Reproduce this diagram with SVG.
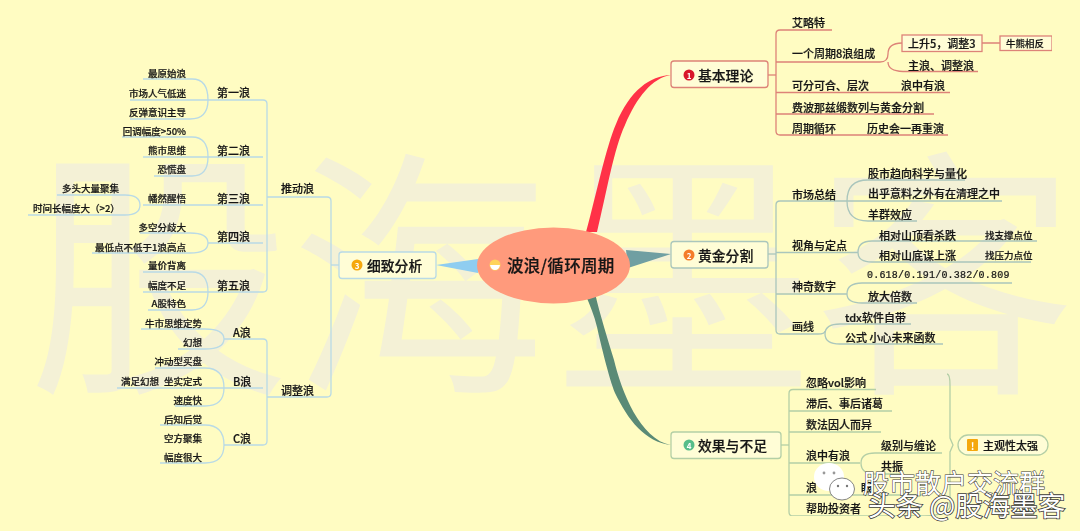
<svg xmlns="http://www.w3.org/2000/svg" width="1080" height="531" viewBox="0 0 1080 531">
<style>
text{font-family:"Noto Sans CJK SC","Noto Sans",sans-serif;fill:#161616;dominant-baseline:central;font-weight:500;stroke:#161616;stroke-width:.22}
.s{font-size:11px}.x{font-size:9.500px}.m{font-size:11px}
.r{text-anchor:end}
.big{font-size:13.800px}
.wm{font-size:262px;fill:#f4f1d6;stroke:none;font-weight:400;dominant-baseline:auto}
.c{fill:none;stroke-width:1.300}
.c1{stroke:#dd8378}.c2{stroke:#aac6bc}.c3{stroke:#b9dae6}.c4{stroke:#b4cfa6}
.nb{fill:#fffdd6;stroke-width:1.300}
.n{font-size:8px;fill:#fff;stroke:none;text-anchor:middle;font-weight:700}
.ov{fill:#fff;stroke:#3a3a3a;stroke-width:1.600;paint-order:stroke;font-weight:400}
</style>
<defs><filter id="soft" x="0" y="0" width="100%" height="100%"><feGaussianBlur stdDeviation="0.35"/></filter></defs>
<rect width="1080" height="531" fill="#fffcc2"/>
<text class="wm" x="28" y="374">股海墨客</text>

<g filter="url(#soft)">
<g id="connectors">
<path d="M597 232C606 195 614 148 625 125C637 97 652 78 671 75C650 76 630 90 616 124C606 147 596 195 586 232Z" fill="#ff3347"/>
<path d="M626 250L671 254L628 268Z" fill="#6f9fa2"/>
<path d="M478 259L436 265L478 273Z" fill="#8fcdf0"/>
<path d="M595 293C600 315 608 340 614 360C621 390 640 440 671 445C645 442 628 420 615 393C609 378 601 345 597 327C594 315 590 305 586 296Z" fill="#5a8a76"/>
<g class="c c1">
<path d="M768 75H776"/>
<path d="M832 30H780Q776 30 776 34V131Q776 135 780 135H948"/>
<path d="M776 62H880Q888 62 888 54Q888 43 902 43"/>
<path d="M888 62Q888 71 903 71.500H978"/>
<path d="M776 92.500H950M776 114H934M982 43H1000"/>
</g>
<g class="c c2">
<path d="M768 254H776"/>
<path d="M776 205Q776 201 780 201H1002M776 205V330Q776 334 780 334H818Q825 334 825 331"/>
<path d="M847 201Q847 180 868 180H965M847 201Q847 221 868 221H917"/>
<path d="M776 252.500H858M858 252.500Q858 241 872 241H1037M858 252.500Q858 262 872 262H1031"/>
<path d="M776 294H847M847 294Q847 283 862 283H1012M847 294Q847 303 862 303H917"/>
<path d="M825 334Q825 324 840 324H911M825 334Q825 344 840 344H943"/>
</g>
<g class="c c3">
<path d="M143 79H192Q208 79 208 100Q208 119 190 119H130M130 100H263Q267 100 267 104V288Q267 292 263 292H143"/>
<path d="M122 137H192Q208 137 208 157Q208 176 192 176H154M143 157H263M143 205H263M267 197H327Q331 197 331 201V393Q331 397 327 397H267"/>
<path d="M208 243H263M140 233H190Q208 233 208 243Q208 253 190 253H92"/>
<path d="M143 272H192Q208 272 208 292Q208 310 192 310H148"/>
<path d="M57 195H125Q140 195 140 205Q140 215 125 215H28"/>
<path d="M141 329H205Q224 329 224 339Q224 349 205 349H178M224 339H263Q267 339 267 343V441Q267 445 263 445H224"/>
<path d="M155 368H205Q224 368 224 388Q224 406 205 406H175M117 388H263"/>
<path d="M160 425H205Q224 425 224 445Q224 463 205 463H160"/>
<path d="M331 265H339"/>
</g>
<g class="c c4">
<path d="M781 445H789"/>
<path d="M876 389.500H793Q789 389.500 789 393.500V512Q789 516 793 516H925"/>
<path d="M789 411H892M789 432H881M789 463H860M789 495H925"/>
<path d="M861 463Q861 453 875 453H942M861 463Q861 474 875 474H900"/>
<path d="M947 374Q950 374 950 385V438L953 445L950 452V505Q950 515 925 516"/>
</g>
</g>

<g id="root"><ellipse cx="553.500" cy="265.500" rx="76.500" ry="38" fill="#ff9a7c"/>
<circle cx="495" cy="265" r="5.500" fill="#ffd35a"/><path d="M490 265H500Q499 270 495 270Q491 270 490 265Z" fill="#fff"/>
<text x="507" y="265" style="font-size:16.500px;letter-spacing:.3px" font-weight="700">波浪/循环周期</text></g>

<g id="n1"><rect class="nb c1" x="671" y="61" width="97" height="26.500" rx="3"/><circle cx="689" cy="75" r="5.500" fill="#d8172b"/><text class="n" x="689" y="75">1</text><text class="big" x="698" y="74.500">基本理论</text></g>
<g id="n1a"><text class="m" x="792" y="22">艾略特</text></g>
<g id="n1b"><text class="m" x="792" y="53">一个周期8浪组成</text></g>
<g id="n1b1"><rect class="nb c1" x="902" y="35" width="80" height="16.500"/><text class="m" x="908" y="43">上升5，调整3</text></g>
<g id="n1b1a"><rect class="nb c1" x="1000" y="36" width="52" height="14.500"/><text class="x" x="1006" y="43">牛熊相反</text></g>
<g id="n1b2"><text class="m" x="908" y="65">主浪、调整浪</text></g>
<g id="n1c"><text class="m" x="792" y="85">可分可合、层次</text><text class="m" x="901" y="85">浪中有浪</text></g>
<g id="n1d"><text class="m" x="792" y="107">费波那兹缎数列与黄金分割</text></g>
<g id="n1e"><text class="m" x="792" y="128">周期循环</text><text class="m" x="867" y="128">历史会一再重演</text></g>

<g id="n2"><rect class="nb c2" x="671" y="241.500" width="97" height="26.500" rx="3"/><circle cx="689" cy="255" r="5.500" fill="#f47c2c"/><text class="n" x="689" y="255">2</text><text class="big" x="698" y="255">黄金分割</text></g>
<g id="n2a"><text class="m" x="792" y="194">市场总结</text></g>
<g id="n2a1"><text class="m" x="868" y="173">股市趋向科学与量化</text></g>
<g id="n2a2"><text class="m" x="868" y="193">出乎意料之外有在清理之中</text></g>
<g id="n2a3"><text class="m" x="868" y="214">羊群效应</text></g>
<g id="n2b"><text class="m" x="792" y="245">视角与定点</text></g>
<g id="n2b1"><text class="m" x="879" y="235">相对山顶看杀跌</text><text class="x" x="985" y="235">找支撑点位</text></g>
<g id="n2b2"><text class="m" x="879" y="255">相对山底谋上涨</text><text class="x" x="985" y="255">找压力点位</text></g>
<g id="n2c"><text class="m" x="792" y="286">神奇数字</text></g>
<g id="n2c1"><text class="x" x="867" y="275" style="font-family:'Liberation Mono',monospace;font-size:10px;letter-spacing:.2px">0.618/0.191/0.382/0.809</text></g>
<g id="n2c2"><text class="m" x="868" y="296">放大倍数</text></g>
<g id="n2d"><text class="m" x="792" y="326">画线</text></g>
<g id="n2d1"><text class="m" x="845" y="317">tdx软件自带</text></g>
<g id="n2d2"><text class="m" x="845" y="337">公式  小心未来函数</text></g>

<g id="n3"><rect class="nb c3" x="339" y="252" width="97" height="26.500" rx="3"/><circle cx="357" cy="265" r="5.500" fill="#f5a80f"/><text class="n" x="357" y="265">3</text><text class="big" x="367" y="265">细致分析</text></g>
<g id="n3a"><text class="m" x="281" y="188">推动浪</text></g>
<g id="n3a1"><text class="m" x="217" y="92">第一浪</text><text class="x r" x="186" y="73">最原始浪</text><text class="x r" x="186" y="93">市场人气低迷</text><text class="x r" x="186" y="112">反弹意识主导</text></g>
<g id="n3a2"><text class="m" x="217" y="150">第二浪</text><text class="x r" x="186" y="131">回调幅度&gt;50%</text><text class="x r" x="186" y="150">熊市思维</text><text class="x r" x="186" y="169">恐慌盘</text></g>
<g id="n3a3"><text class="m" x="217" y="198">第三浪</text><text class="x r" x="186" y="198">幡然醒悟</text><text class="x r" x="119" y="188">多头大量聚集</text><text class="x" x="33" y="208">时间长幅度大（&gt;2）</text></g>
<g id="n3a4"><text class="m" x="217" y="236">第四浪</text><text class="x r" x="186" y="227">多空分歧大</text><text class="x r" x="186" y="247">最低点不低于1浪高点</text></g>
<g id="n3a5"><text class="m" x="217" y="285">第五浪</text><text class="x r" x="186" y="265">量价背离</text><text class="x r" x="186" y="285">幅度不足</text><text class="x r" x="186" y="303">A股特色</text></g>
<g id="n3b"><text class="m" x="281" y="390">调整浪</text></g>
<g id="n3b1"><text class="m" x="233" y="332">A浪</text><text class="x r" x="202" y="323">牛市思维定势</text><text class="x r" x="202" y="342">幻想</text></g>
<g id="n3b2"><text class="m" x="233" y="381">B浪</text><text class="x r" x="202" y="361">冲动型买盘</text><text class="x r" x="159" y="381">满足幻想</text><text class="x r" x="202" y="381">坐实定式</text><text class="x r" x="202" y="400">速度快</text></g>
<g id="n3b3"><text class="m" x="233" y="438">C浪</text><text class="x r" x="202" y="419">后知后觉</text><text class="x r" x="202" y="438">空方聚集</text><text class="x r" x="202" y="457">幅度很大</text></g>

<g id="n4"><rect class="nb c4" x="671" y="432" width="110" height="26.500" rx="3"/><circle cx="689" cy="445" r="5.500" fill="#57bd8a"/><text class="n" x="689" y="445">4</text><text class="big" x="698" y="445">效果与不足</text></g>
<g id="n4a"><text class="m" x="806" y="382">忽略vol影响</text></g>
<g id="n4b"><text class="m" x="806" y="403">滞后、事后诸葛</text></g>
<g id="n4c"><text class="m" x="806" y="424">数法因人而异</text></g>
<g id="n4d"><text class="m" x="806" y="455">浪中有浪</text></g>
<g id="n4d1"><text class="m" x="881" y="445">级别与缠论</text></g>
<g id="n4d2"><text class="m" x="881" y="466">共振</text></g>
<g id="n4e"><text class="m" x="806" y="487">浪</text><text class="m" x="861" y="487">眼</text></g>
<g id="n4f"><text class="m" x="806" y="508">帮助投资者</text></g>
<g id="n5"><rect x="958" y="435" width="90" height="20" rx="10" fill="#fffdd6" stroke="#b4cfa6" stroke-width="1.300"/><rect x="967" y="439" width="11" height="12" rx="1" fill="#f5a80f"/><text class="n" x="972.500" y="445" style="font-size:10px">!</text><text class="m" x="983" y="445">主观性太强</text></g>
</g>

<g id="overlay">
<ellipse cx="829" cy="477" rx="15" ry="14" fill="#fff"/>
<circle cx="824" cy="473" r="1.400" fill="#999"/><circle cx="834" cy="473" r="1.400" fill="#999"/>
<ellipse cx="842" cy="489" rx="12.500" ry="11" fill="#fff" stroke="#666" stroke-width=".8"/>
<circle cx="838" cy="486" r="1.200" fill="#777"/><circle cx="847" cy="486" r="1.200" fill="#777"/>
<text class="ov" x="863" y="481" style="font-size:26px;stroke-width:1.100">股市散户交流群</text>
<text class="ov" x="868" y="504" style="font-size:27.500px">头条 @股海墨客</text>
</g>
</svg>
